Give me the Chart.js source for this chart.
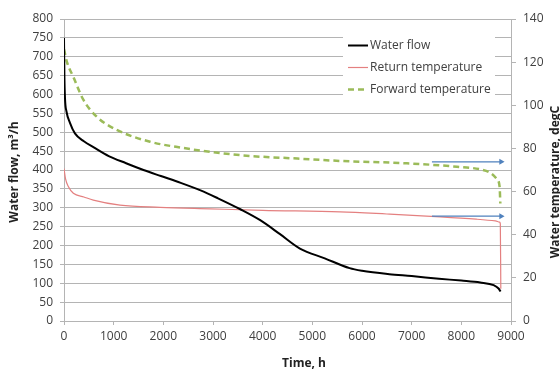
<!DOCTYPE html>
<html>
<head>
<meta charset="utf-8">
<script src="https://cdn.jsdelivr.net/npm/chart.js@4.4.1/dist/chart.umd.min.js"></script>
<style>
html,body{margin:0;padding:0;background:#fff;}
#wrap{width:560px;height:371px;}
</style>
</head>
<body>
<div id="wrap"><canvas id="c" width="560" height="371"></canvas></div>
<script>
// ---- data ----
const seriesNames = ['Water flow', 'Return temperature', 'Forward temperature'];
const axisTitles = { x: 'Time, h', left: 'Water flow, m\u00B3/h', right: 'Water temperature, degC' };

const flowTime   = [0, 8, 20, 50, 120, 220, 400, 600, 900, 1250, 1600, 1950, 2350, 2750, 3100, 3550, 3950, 4350, 4750, 5250, 5750, 6000, 6550, 7000, 7550, 8000, 8380, 8650, 8750, 8790];
const flowValues = [750, 650, 590, 555, 525, 497, 476, 460, 437, 418, 400, 384, 366, 346, 325, 296, 267, 230, 192, 166, 140, 133, 124, 119, 112, 107, 102, 95, 86, 78];

const returnTime   = [0, 30, 87, 188, 400, 590, 1128, 1934, 2942, 4000, 5561, 6500, 7576, 8300, 8685, 8772, 8785, 8795];
const returnValues = [70.7, 66, 62.3, 59.2, 57.5, 56, 53.7, 52.7, 52, 51.3, 50.6, 49.6, 48.3, 47.2, 46.4, 45.8, 45, 15];

const forwardTime   = [0, 60, 188, 389, 659, 1062, 1733, 2404, 2942, 3748, 4700, 5561, 6905, 7912, 8382, 8584, 8719, 8771, 8785];
const forwardValues = [126, 120, 113.2, 102.6, 94.7, 88.6, 83.1, 80.2, 78.4, 76.5, 75.3, 74.2, 73.1, 71.5, 70.3, 68.7, 65.7, 62.2, 54.5];

// blue annotation arrows (right axis units)
const arrowTimes  = [7408, 8800];
const arrowLevels = [73.8, 48.6];

const xTicks = { min: 0, max: 9000, step: 1000 };
const leftTicks = { min: 0, max: 800, step: 50 };
const rightTicks = { min: 0, max: 140, step: 20 };

// ---- chart ----
const FONT = "'Open Sans', 'Liberation Sans', sans-serif";
const TEXT = '#404040';
const GRID = '#b4b4b4';
const toPoints = (xs, ys) => xs.map((x, i) => ({ x: x, y: ys[i] }));

const overlay = {
  id: 'overlay',
  afterDatasetsDraw(chart) {
    const ctx = chart.ctx;
    ctx.save();
    // legend
    ctx.fillStyle = '#fff';
    ctx.fillRect(343, 31, 152, 70);
    const rows = [45, 67, 89];
    const styles = [
      { c: '#000000', w: 2, d: [] },
      { c: '#E48080', w: 1.2, d: [] },
      { c: '#9BBB59', w: 2.5, d: [6, 4] }
    ];
    ctx.font = '12px ' + FONT;
    ctx.textBaseline = 'middle';
    ctx.textAlign = 'left';
    seriesNames.forEach((n, i) => {
      const s = styles[i];
      ctx.beginPath();
      ctx.setLineDash(s.d);
      ctx.strokeStyle = s.c;
      ctx.lineWidth = s.w;
      ctx.moveTo(348, rows[i] + 0.5);
      ctx.lineTo(368, rows[i] + 0.5);
      ctx.stroke();
      ctx.setLineDash([]);
      ctx.fillStyle = TEXT;
      ctx.fillText(n, 370, rows[i] + 1);
    });
    ctx.restore();
  },
  afterDraw(chart) {
    const ctx = chart.ctx;
    ctx.save();
    ctx.fillStyle = '#222';
    ctx.font = 'bold 12px ' + FONT;
    ctx.textAlign = 'center';
    ctx.textBaseline = 'middle';
    ctx.fillText(axisTitles.x, 304, 364);
    ctx.translate(15, 172);
    ctx.rotate(-Math.PI / 2);
    ctx.fillText(axisTitles.left, 0, 0);
    ctx.restore();
    ctx.save();
    ctx.fillStyle = '#222';
    ctx.font = 'bold 12px ' + FONT;
    ctx.textAlign = 'center';
    ctx.textBaseline = 'middle';
    ctx.translate(556, 182);
    ctx.rotate(-Math.PI / 2);
    ctx.fillText(axisTitles.right, 0, 0);
    ctx.restore();
  }
};

const arrowDataset = (lvl) => ({
  label: 'arrow',
  data: toPoints(arrowTimes, [lvl, lvl]),
  yAxisID: 'y2',
  borderColor: '#4F81BD',
  backgroundColor: '#4F81BD',
  borderWidth: 1.2,
  pointRadius: [0, 3.5],
  pointStyle: 'triangle',
  rotation: 90,
  pointBorderWidth: 0,
  order: 1
});

new Chart(document.getElementById('c'), {
  type: 'line',
  data: {
    datasets: [
      { label: seriesNames[0], data: toPoints(flowTime, flowValues), yAxisID: 'y',
        borderColor: '#000000', borderWidth: 2, pointRadius: 0, cubicInterpolationMode: 'monotone', order: 0 },
      { label: seriesNames[1], data: toPoints(returnTime, returnValues), yAxisID: 'y2',
        borderColor: '#E48080', borderWidth: 1.2, pointRadius: 0, cubicInterpolationMode: 'monotone', order: 3 },
      { label: seriesNames[2], data: toPoints(forwardTime, forwardValues), yAxisID: 'y2',
        borderColor: '#9BBB59', borderWidth: 2.5, borderDash: [6, 4], pointRadius: 0, cubicInterpolationMode: 'monotone', order: 2 },
      arrowDataset(arrowLevels[0]),
      arrowDataset(arrowLevels[1])
    ]
  },
  options: {
    responsive: false,
    animation: false,
    devicePixelRatio: 1,
    layout: { padding: { top: 19, left: 0, right: 0, bottom: 0 } },
    plugins: { legend: { display: false }, tooltip: { enabled: false } },
    scales: {
      x: {
        type: 'linear', min: xTicks.min, max: xTicks.max,
        ticks: { stepSize: xTicks.step, color: TEXT, font: { family: FONT, size: 12 }, padding: 4, maxRotation: 0,
                 callback: v => String(v) },
        grid: { drawOnChartArea: false, drawTicks: true, tickLength: 4, color: GRID },
        border: { color: GRID },
        afterFit(s) { s.height = 50; }
      },
      y: {
        position: 'left', min: leftTicks.min, max: leftTicks.max,
        ticks: { stepSize: leftTicks.step, color: TEXT, font: { family: FONT, size: 12 }, padding: 7,
                 callback: v => String(v) },
        grid: { color: GRID, tickLength: 4 },
        border: { color: GRID },
        afterFit(s) { s.width = 64; }
      },
      y2: {
        position: 'right', min: rightTicks.min, max: rightTicks.max,
        ticks: { stepSize: rightTicks.step, color: TEXT, font: { family: FONT, size: 12 }, padding: 7,
                 callback: v => String(v) },
        grid: { drawOnChartArea: false, drawTicks: true, tickLength: 5, color: GRID },
        border: { color: GRID },
        afterFit(s) { s.width = 49; }
      }
    }
  },
  plugins: [overlay]
});
</script>
</body>
</html>
